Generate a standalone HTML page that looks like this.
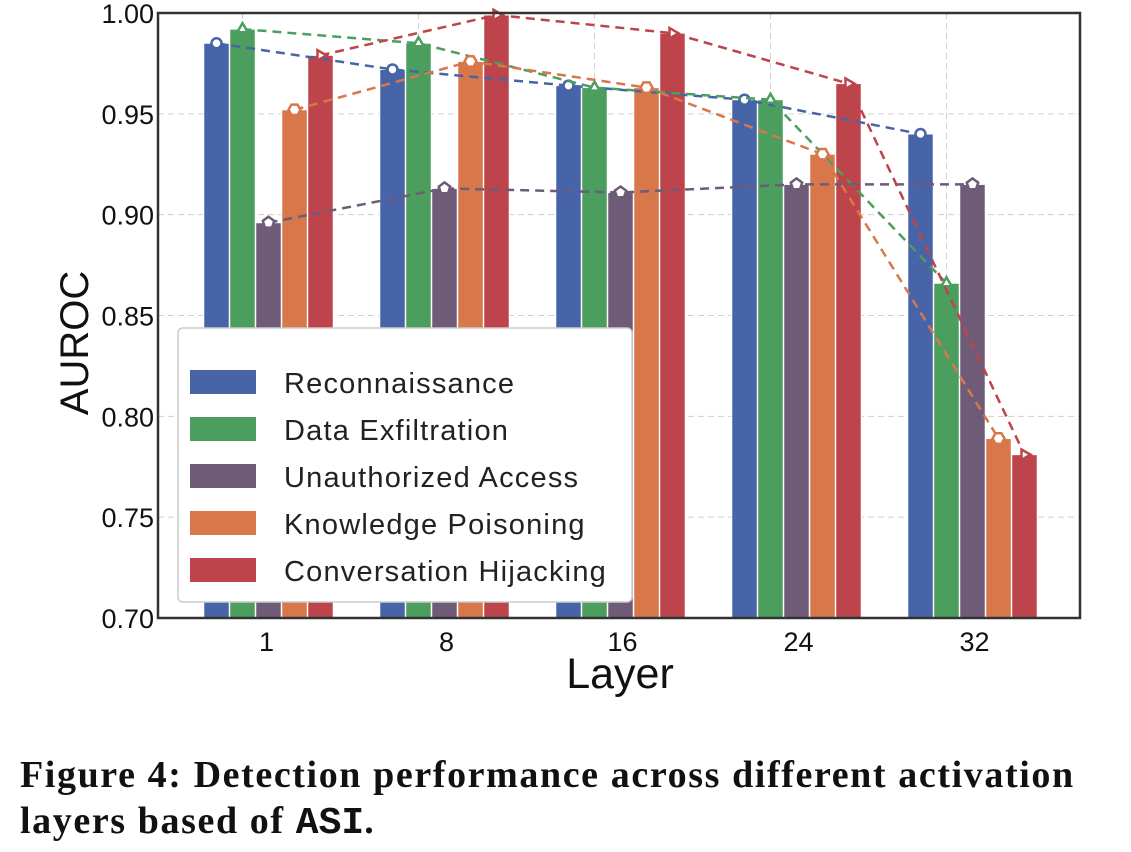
<!DOCTYPE html>
<html><head><meta charset="utf-8"><style>
body{margin:0;background:#fff;width:1131px;height:852px;overflow:hidden;font-family:"Liberation Sans",sans-serif}
.cap{position:absolute;left:20px;top:752px;font-family:"Liberation Serif",serif;font-weight:bold;font-size:38px;letter-spacing:1.6px;line-height:46px;color:#111;white-space:nowrap}
</style></head><body>
<svg id="chart" width="1131" height="740" style="position:absolute;left:0;top:0"></svg>
<div class="cap">Figure 4: Detection performance across different activation<br>layers based of <span style="font-family:'Liberation Mono',monospace;letter-spacing:0">ASI</span>.</div>
<script>
const layers=["1","8","16","24","32"];
const recon=[0.985,0.972,0.964,0.957,0.940];
const exfil=[0.992,0.985,0.963,0.957,0.866];
const unauth=[0.896,0.913,0.911,0.915,0.915];
const knowledge=[0.952,0.976,0.963,0.930,0.789];
const hijack=[0.979,0.999,0.990,0.965,0.781];
const seriesNames=["Reconnaissance","Data Exfiltration","Unauthorized Access","Knowledge Poisoning","Conversation Hijacking"];
const yTicks=[0.70,0.75,0.80,0.85,0.90,0.95,1.00];
const series=[recon,exfil,unauth,knowledge,hijack];
const colors=["#4864a8","#4c9e5e","#6e5b78","#d8774a","#bd444a"];
const markers=["circle","tri-up","pent","hex","tri-right"];
const svg=document.getElementById('chart');
const NS="http://www.w3.org/2000/svg";
const L=158,R=1080,T=13,B=618,ymin=0.70,ymax=1.00;
const y=v=>B-(v-ymin)/(ymax-ymin)*(B-T);
const groupX=i=>268.5+176*i;
const bw=25.5,step=26;
const barX=(i,s)=>groupX(i)+(s-2)*step-bw/2;
function el(tag,attrs,parent){const e=document.createElementNS(NS,tag);for(const k in attrs)e.setAttribute(k,attrs[k]);(parent||svg).appendChild(e);return e;}
yTicks.forEach(t=>{
  if(t>ymin&&t<ymax){const g=el('line',{x1:L,x2:R,y1:y(t),y2:y(t),stroke:'#d0d0d0','stroke-dasharray':'6,4','stroke-width':1});
  }
  const tx=el('text',{x:L-4,y:y(t)+10,'text-anchor':'end','font-size':27,fill:'#111'});tx.textContent=t.toFixed(2);
  
});
layers.forEach((l,i)=>{
  const gx=groupX(i)-26;
  const g=el('line',{x1:gx,x2:gx,y1:T,y2:B,stroke:'#d0d0d0','stroke-dasharray':'6,4','stroke-width':1});
  
  const tx=el('text',{x:groupX(i)-2+(i>0?4:0),y:651,'text-anchor':'middle','font-size':27,fill:'#111'});tx.textContent=l;
  
});
series.forEach((d,s)=>d.forEach((v,i)=>{
  const r=el('rect',{x:barX(i,s),y:y(v),width:bw,height:B-y(v),fill:colors[s],stroke:'#fff','stroke-width':1});
  
  
}));
function marker(type,cx,cy,c){
  const r=6;let pts=[];
  if(type==='circle'){return el('circle',{cx:cx,cy:cy,r:5,fill:'#fff',stroke:c,'stroke-width':2.5});}
  let n,rot;
  if(type==='tri-up'){n=3;rot=-90;}else if(type==='tri-right'){n=3;rot=0;}else if(type==='pent'){n=5;rot=-90;}else{n=6;rot=0;}
  for(let k=0;k<n;k++){const a=(rot+360*k/n)*Math.PI/180;pts.push((cx+r*Math.cos(a)).toFixed(1)+','+(cy+r*Math.sin(a)).toFixed(1));}
  return el('polygon',{points:pts.join(' '),fill:'#fff',stroke:c,'stroke-width':2.5});
}
series.forEach((d,s)=>{
  const pts=d.map((v,i)=>(barX(i,s)+bw/2)+','+y(v)).join(' ');
  const pl=el('polyline',{points:pts,fill:'none',stroke:colors[s],'stroke-width':2.5,'stroke-dasharray':'9,6'});
  
  
  d.forEach((v,i)=>{const m=marker(markers[s],barX(i,s)+bw/2,y(v),colors[s]);
    });
});
const fr=el('rect',{x:L,y:T,width:R-L,height:B-T,fill:'none',stroke:'#333','stroke-width':2.5});

const yt=el('text',{x:0,y:0,'font-size':40,fill:'#111','text-anchor':'middle',transform:'translate(88,343) rotate(-90)'});yt.textContent='AUROC';

const xt=el('text',{x:620,y:688,'font-size':43,fill:'#111','text-anchor':'middle'});xt.textContent='Layer';

const lg=el('g',{});

el('rect',{x:178,y:328,width:454,height:274,rx:5,fill:'#fff',stroke:'#ccc','stroke-width':1.5},lg);
seriesNames.forEach((n,s)=>{
  const g=el('g',{},lg);
  
  el('rect',{x:190,y:370+s*47,width:66,height:24,fill:colors[s]},g);
  const t=el('text',{x:284,y:393+s*47,'font-size':29,fill:'#222','letter-spacing':1.2},g);t.textContent=n;
});
</script>
</body></html>
